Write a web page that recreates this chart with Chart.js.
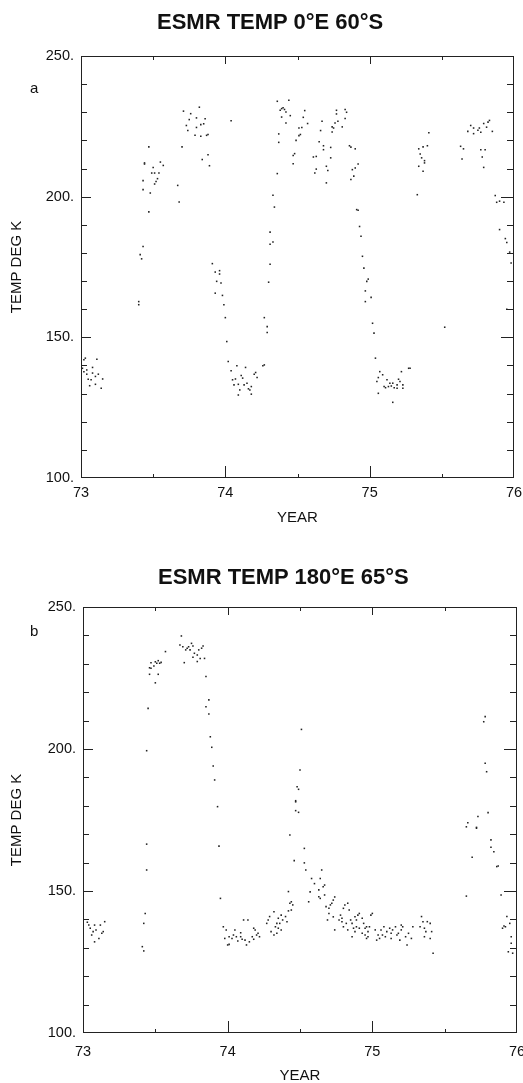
<!DOCTYPE html>
<html><head><meta charset="utf-8">
<script src="https://cdn.jsdelivr.net/npm/chart.js@4.4.1/dist/chart.umd.min.js"></script>
<style>
html,body{margin:0;padding:0;background:#fff;overflow:hidden;width:523px;height:1083px;}
canvas{position:absolute;left:0;}
.t{position:absolute;z-index:2;font-family:"Liberation Sans",Arial,sans-serif;font-weight:bold;font-size:22px;line-height:26px;color:#111;white-space:nowrap;}
.l{position:absolute;z-index:2;font-family:"Liberation Sans",Arial,sans-serif;font-size:15px;line-height:18px;color:#111;}
</style></head><body>
<canvas id="ca" width="523" height="540" style="top:0"></canvas>
<canvas id="cb" width="523" height="548" style="top:540px"></canvas>
<div class="t" style="left:157px;top:9px">ESMR TEMP 0°E 60°S</div>
<div class="l" style="left:30px;top:79px">a</div>
<div class="t" style="left:158px;top:564px">ESMR TEMP 180°E 65°S</div>
<div class="l" style="left:30px;top:622px">b</div>
<script>
const FONT = '"Liberation Sans", Arial, sans-serif';
const titleA = 'ESMR TEMP 0°E 60°S';
const titleB = 'ESMR TEMP 180°E 65°S';
const xTickLabels = ['73', '74', '75', '76'];
const yTickLabels = ['100.', '150.', '200.', '250.'];
const xAxisTitle = 'YEAR';
const yAxisTitle = 'TEMP DEG K';

// Panel a: 0°E 60°S
const yearsA = [
 73.03,73.11,73.01,73.04,73.08,73.02,73.04,73.08,73.12,73.10,73.15,73.05,73.07,73.10,73.06,73.14,73.02,73.00,
 73.40,73.40,73.41,73.42,73.43,73.47,
 73.43,73.48,73.43,73.51,73.52,73.53,73.51,73.49,73.54,73.50,73.44,73.44,73.55,73.57,73.47,
 73.67,73.68,73.70,
 73.71,73.76,73.82,73.75,73.80,73.86,73.73,73.80,73.83,73.85,73.74,73.79,73.83,73.87,73.88,73.84,73.88,73.89,
 73.91,73.93,73.96,73.96,73.94,73.97,73.93,73.98,73.99,74.00,74.01,74.02,
 74.04,
 74.08,74.14,74.04,74.21,74.22,74.20,74.07,74.05,74.11,74.12,74.06,74.09,74.13,74.15,74.10,74.17,74.16,74.18,74.09,74.18,74.26,74.27,
 74.27,74.29,74.29,74.30,74.31,74.31,74.33,74.31,74.34,74.33,74.36,74.37,74.37,74.36,
 74.44,74.39,74.40,74.41,74.38,74.42,74.45,74.39,74.55,74.54,74.57,74.51,74.53,74.52,74.51,74.49,74.42,74.47,74.48,74.47,
 74.67,74.66,74.65,74.68,74.68,74.73,74.73,74.61,74.63,74.70,74.63,74.62,74.71,74.70,74.74,74.75,74.74,74.77,74.77,74.76,74.78,74.81,74.83,74.83,74.84,
 74.86,74.87,74.90,74.92,74.90,74.88,74.89,74.87,74.91,74.92,74.93,74.94,74.95,74.96,74.99,74.98,74.97,74.97,
 75.01,75.02,75.03,75.04,
 75.07,75.09,75.06,75.05,75.12,75.14,75.16,75.20,75.22,75.27,75.28,75.10,75.13,75.11,75.15,75.19,75.17,75.19,75.23,75.23,75.06,75.16,75.21,
 75.41,75.40,75.37,75.34,75.35,75.36,75.38,75.38,75.34,75.37,75.33,
 75.52,
 75.63,75.65,75.64,75.68,75.70,75.72,75.72,75.75,75.76,75.77,75.79,75.81,75.82,75.83,75.85,75.77,75.80,75.78,75.79,
 75.87,75.88,75.90,75.93,75.90,75.94,75.95,75.97,75.98,75.95
];
const tempsA = [
 142.6,142.2,139.0,138.4,139.3,137.8,136.9,137.3,136.9,136.1,135.2,135.1,134.9,133.3,132.8,131.9,142.0,138.4,
 162.7,161.6,179.4,177.9,182.3,194.6,
 202.5,201.3,205.7,204.5,205.4,206.4,208.4,208.4,208.4,210.4,211.6,212.0,212.3,211.1,217.7,
 204.0,198.1,217.7,
 230.4,229.5,231.8,227.4,228.0,227.7,225.3,224.6,225.6,225.9,223.5,221.8,221.5,221.8,222.1,213.2,214.9,211.0,
 176.2,173.2,173.7,172.5,169.9,169.3,165.7,164.9,161.6,157.0,148.5,141.4,
 227.0,
 139.9,139.3,138.1,137.5,135.7,136.9,135.2,134.9,136.4,135.5,133.1,133.3,133.1,133.7,131.3,131.3,131.7,132.5,129.5,129.8,139.9,140.2,
 157.0,153.8,151.7,169.6,176.0,183.1,183.9,187.4,196.3,200.5,208.2,219.3,222.3,233.9,
 234.3,231.3,231.6,231.0,230.7,230.1,228.8,228.3,230.6,228.2,226.0,224.4,224.6,222.1,221.7,220.0,226.2,214.6,215.3,211.7,
 226.8,223.5,219.5,218.1,216.7,217.5,213.8,214.1,214.3,210.8,209.8,208.4,209.3,204.9,224.8,224.4,223.0,229.4,230.7,226.2,226.8,224.8,227.8,231.0,230.0,
 218.1,217.6,217.0,211.6,210.2,209.6,207.3,206.1,195.4,195.2,189.4,185.9,178.8,174.6,170.7,169.9,166.5,162.7,
 164.2,155.0,151.5,142.6,
 137.8,136.7,135.7,134.3,134.9,133.7,133.7,135.1,137.8,139.0,139.0,132.5,132.5,132.1,132.7,133.1,132.1,131.9,133.1,131.9,130.1,126.9,134.3,
 222.7,218.1,217.7,217.0,215.2,213.8,212.8,212.0,210.8,209.0,200.7,
 153.6,
 217.9,217.0,213.4,223.2,225.3,224.4,222.4,223.6,224.4,222.9,226.0,224.7,226.5,227.1,223.2,216.7,216.7,214.1,210.4,
 200.4,198.0,198.4,198.0,188.3,185.1,183.7,180.3,176.4,160.0
];

// Panel b: 180°E 65°S
const yearsB = [
 73.00,73.03,73.05,73.08,73.12,73.15,73.13,73.09,73.06,73.08,73.11,73.14,73.04,73.07,
 73.41,73.42,73.42,73.43,73.44,73.44,73.44,73.45,
 73.46,73.47,73.49,73.50,73.51,73.52,73.53,73.54,73.57,73.46,73.52,73.50,73.47,
 73.68,73.67,73.69,73.71,73.72,73.73,73.74,73.75,73.76,73.77,73.79,73.80,73.82,73.83,73.81,73.84,73.79,73.70,73.76,
 73.85,73.87,73.85,73.87,73.88,73.89,73.90,73.91,73.93,73.94,73.95,
 73.97,73.99,73.98,74.00,74.01,
 74.01,74.03,74.04,74.05,74.06,74.07,74.09,74.09,74.10,74.11,74.12,74.13,74.14,74.15,74.17,74.18,74.19,74.20,74.21,74.22,74.18,
 74.27,74.28,74.29,74.30,74.32,74.32,74.33,74.34,74.35,74.36,74.37,74.38,74.40,74.41,74.37,74.34,74.35,
 74.42,74.43,74.44,74.45,74.44,74.42,74.43,74.47,74.49,74.47,74.48,74.49,74.50,74.51,74.46,74.47,
 74.53,74.53,74.54,74.58,74.57,74.56,74.60,74.64,74.65,74.63,74.66,74.67,74.63,74.64,74.67,74.68,74.70,74.71,74.72,74.73,74.74,74.70,74.69,74.73,74.74,
 74.77,74.78,74.79,74.80,74.81,74.83,74.84,74.79,74.80,74.82,74.85,74.83,74.86,74.88,74.89,74.90,74.87,74.88,74.91,74.93,74.95,74.96,74.97,74.89,74.86,
 74.91,74.94,74.95,74.97,74.98,74.99,75.00,75.02,75.03,75.04,75.05,75.06,75.07,75.08,75.09,75.10,75.12,75.13,75.13,75.14,75.16,75.17,75.18,75.19,75.20,
 75.20,75.21,75.23,75.24,75.25,75.27,75.28,75.33,75.34,75.35,75.36,75.37,75.38,75.40,75.40,75.41,75.42,75.36,74.96,74.93,
 75.65,75.65,75.66,75.69,75.72,75.73,75.72,75.80,75.77,75.78,75.78,75.79,75.82,75.82,75.84,75.86,75.87,75.89,
 75.90,75.92,75.93,75.95,75.96,75.94,75.96,75.97,75.91
];
const tempsB = [
 139.8,139.0,136.9,138.0,138.0,139.2,135.1,136.3,134.5,132.1,133.3,135.7,138.0,135.7,
 130.4,128.9,138.6,142.1,157.4,166.5,199.4,214.3,
 228.6,230.4,229.2,230.7,230.2,231.1,230.2,230.5,234.3,226.3,226.3,223.3,228.4,
 239.8,236.6,236.0,234.9,235.5,236.0,234.9,237.2,236.3,233.7,233.1,234.9,235.5,236.3,231.9,231.9,230.8,230.4,232.3,
 225.5,217.3,214.9,212.3,204.3,200.6,194.0,189.1,179.7,165.8,147.4,
 137.4,136.3,133.3,131.0,131.2,
 133.9,133.3,134.5,136.3,133.9,132.4,135.3,133.9,133.0,139.8,132.7,131.0,139.8,132.1,133.9,133.0,136.3,134.5,135.1,133.9,136.9,
 138.6,139.8,141.0,135.7,134.5,142.7,137.4,138.6,140.4,138.6,141.5,139.8,141.0,139.2,136.3,135.1,136.9,
 149.8,145.7,146.2,145.1,143.3,143.0,169.7,178.3,177.7,181.8,186.7,185.8,192.6,206.9,160.7,181.4,
 165.0,159.9,157.4,154.4,149.7,146.2,152.6,154.4,157.4,150.4,151.5,148.6,148.0,147.4,152.1,144.5,143.9,145.1,145.7,146.8,147.9,142.1,139.8,140.9,136.3,
 139.8,141.5,140.4,143.9,145.1,145.7,143.3,139.2,137.4,138.6,139.8,136.3,138.6,140.9,139.8,141.5,136.9,135.7,136.9,135.1,134.5,133.3,133.9,137.4,133.9,
 142.1,138.6,136.9,135.7,137.4,141.5,142.1,136.3,132.7,134.5,133.3,136.3,134.5,137.4,133.9,135.7,136.9,135.1,133.3,136.3,137.4,134.5,135.1,132.7,136.3,
 138.0,137.4,133.9,131.0,135.1,133.3,137.4,137.4,141.0,139.2,136.9,135.7,139.2,138.6,133.3,135.7,128.1,133.9,137.4,140.4,
 148.2,172.6,174.0,161.9,172.1,176.2,172.4,177.6,209.6,211.4,195.0,192.0,168.0,165.4,163.8,158.6,158.8,148.6,
 136.9,137.4,141.0,138.6,133.9,128.6,131.6,128.1,137.7
];

const framePlugin = {
  id: 'frameTicks',
  beforeDatasetsDraw(chart) {
    const { ctx, chartArea: a, scales } = chart;
    const xs = scales.x, ys = scales.y;
    ctx.save();
    ctx.strokeStyle = '#222';
    ctx.lineWidth = 1;
    ctx.strokeRect(Math.round(a.left) + 0.5, Math.round(a.top) + 0.5,
                   Math.round(a.right - a.left) - 1, Math.round(a.bottom - a.top) - 1);
    ctx.beginPath();
    for (let v = ys.min + 10; v < ys.max; v += 10) {
      const py = Math.round(ys.getPixelForValue(v)) + 0.5;
      const major = v % 50 === 0;
      ctx.moveTo(a.left, py); ctx.lineTo(a.left + (major ? 10 : 6), py);
      ctx.moveTo(a.right, py); ctx.lineTo(a.right - (major ? 13 : 7), py);
    }
    for (let v = xs.min + 0.5; v < xs.max; v += 0.5) {
      const px = Math.round(xs.getPixelForValue(v)) + 0.5;
      const major = Math.abs(v - Math.round(v)) < 1e-6;
      ctx.moveTo(px, a.bottom); ctx.lineTo(px, a.bottom - (major ? 12 : 4));
      ctx.moveTo(px, a.top); ctx.lineTo(px, a.top + (major ? 8 : 4));
    }
    ctx.stroke();
    ctx.restore();
  }
};

function build(id, xs, ys, g) {
  const pts = xs.map((x, i) => ({ x: x, y: ys[i] }));
  return new Chart(document.getElementById(id), {
    type: 'scatter',
    data: { datasets: [{ data: pts, pointRadius: 1.1, pointHoverRadius: 1.1, pointStyle: 'rect',
      backgroundColor: '#222', borderWidth: 0 }] },
    options: {
      responsive: false, animation: false, devicePixelRatio: 1,
      events: [],
      layout: { padding: { top: g.top, right: g.padRight, bottom: 0, left: 0 } },
      plugins: { legend: { display: false }, tooltip: { enabled: false }, title: { display: false } },
      scales: {
        x: {
          type: 'linear', min: 73, max: 76,
          grid: { display: false, drawTicks: false }, border: { display: false },
          ticks: { stepSize: 1, padding: g.xTickPad, color: '#111', maxRotation: 0, autoSkip: false,
            font: { family: FONT, size: 14.5 },
            callback: (v, i) => xTickLabels[i] },
          title: { display: true, text: xAxisTitle, color: '#111', font: { family: FONT, size: 15 },
            padding: { top: 0, bottom: g.yearPad } },
          afterFit: (s) => { s.height = g.xH; s.paddingLeft = 0; s.paddingRight = 0; }
        },
        y: {
          type: 'linear', min: 100, max: 250,
          grid: { display: false, drawTicks: false }, border: { display: false },
          ticks: { stepSize: 50, padding: g.yTickPad, color: '#111', autoSkip: false,
            font: { family: FONT, size: 14.5 },
            callback: (v, i) => yTickLabels[i] },
          title: { display: true, text: yAxisTitle, color: '#111', font: { family: FONT, size: 15 },
            padding: { top: 8, bottom: 0 } },
          afterFit: (s) => { s.width = g.yW; s.paddingTop = 0; s.paddingBottom = 0; }
        }
      }
    },
    plugins: [framePlugin]
  });
}

build('ca', yearsA, tempsA, { top: 56, padRight: 9, yW: 81, xH: 62, yearPad: 13, xTickPad: 6, yTickPad: 7 });
build('cb', yearsB, tempsB, { top: 67, padRight: 6, yW: 83, xH: 55, yearPad: 3, xTickPad: 10, yTickPad: 7 });
</script>
</body></html>
